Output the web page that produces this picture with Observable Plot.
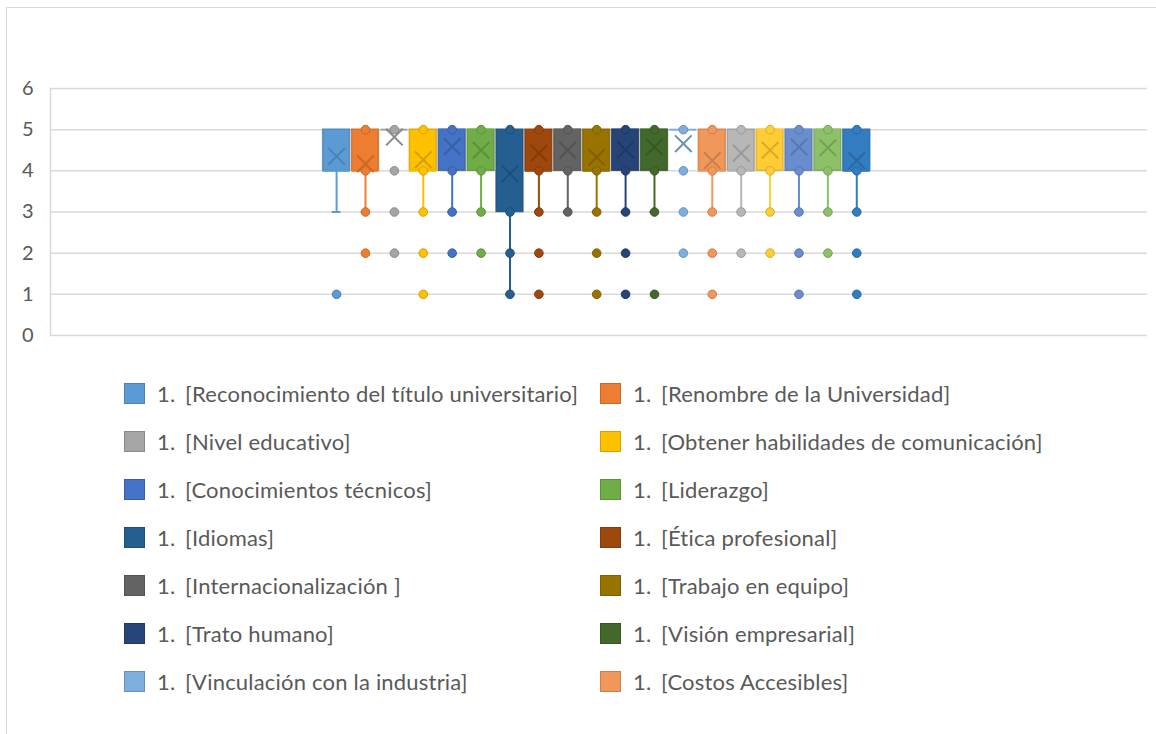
<!DOCTYPE html>
<html><head><meta charset="utf-8">
<script src="https://cdn.jsdelivr.net/npm/d3@7"></script>
<script src="https://cdn.jsdelivr.net/npm/@observablehq/plot@0.6"></script>
<style>
body{margin:0;background:#fff;width:1156px;height:734px;overflow:hidden;position:relative;font-family:Lato,"Open Sans",sans-serif;}
#frame{position:absolute;left:6px;top:7px;width:1200px;height:800px;border:1px solid #d9d9d9;}
#chart{position:absolute;left:0;top:0;}
#legend{position:absolute;left:124px;top:369px;display:grid;grid-template-columns:476px 476px;grid-auto-rows:48px;}
.item{display:flex;align-items:center;color:#595959;font-size:22px;letter-spacing:0.2px;white-space:pre;}
.sw{width:21px;height:21px;margin-right:12px;box-sizing:border-box;border:1.5px solid;flex:none;}
.num{display:inline-block;width:28px;flex:none;}
</style></head>
<body>
<div id="frame"></div>
<div id="chart"></div>
<div id="legend"></div>
<script>
const names = [
  "1.  [Reconocimiento del título universitario]",
  "1.  [Renombre de la Universidad]",
  "1.  [Nivel educativo]",
  "1.  [Obtener habilidades de comunicación]",
  "1.  [Conocimientos técnicos]",
  "1.  [Liderazgo]",
  "1.  [Idiomas]",
  "1.  [Ética profesional]",
  "1.  [Internacionalización ]",
  "1.  [Trabajo en equipo]",
  "1.  [Trato humano]",
  "1.  [Visión empresarial]",
  "1.  [Vinculación con la industria]",
  "1.  [Costos Accesibles]",
  "Serie 15", "Serie 16", "Serie 17", "Serie 18", "Serie 19"
];
const legendCount = 14;
const palette = ["#5B9BD5","#ED7D31","#A5A5A5","#FFC000","#4472C4","#70AD47","#255E91","#9E480E","#636363","#997300","#264478","#43682B","#7CAFDD","#F1975A","#B7B7B7","#FFCD33","#698ED0","#8CC168","#327DC2"];
const q1 =          [4,4,5,4,4,4,3,4,4,4,4,4,5,4,4,4,4,4,4];
const q3 =          [5,5,5,5,5,5,5,5,5,5,5,5,5,5,5,5,5,5,5];
const median =      [4,4,5,4,5,5,4,4,5,4,5,5,5,4,4,5,5,5,4];
const whiskerLow =  [3,3,5,3,3,3,1,3,3,3,3,3,5,3,3,3,3,3,3];
const means =       [4.35,4.17,4.82,4.27,4.59,4.5,3.93,4.43,4.5,4.33,4.51,4.58,4.66,4.25,4.43,4.5,4.58,4.56,4.25];
const points = [
  [1],
  [5,4,3,2],
  [5,4,3,2],
  [5,4,3,2,1],
  [5,4,3,2],
  [5,4,3,2],
  [5,3,2,1],
  [5,4,3,2,1],
  [5,4,3],
  [5,4,3,2,1],
  [5,4,3,2,1],
  [5,4,3,1],
  [5,4,3,2],
  [5,4,3,2,1],
  [5,4,3,2],
  [5,4,3,2],
  [5,4,3,2,1],
  [5,4,3,2],
  [5,4,3,2,1]
];
const yTicks = [0,1,2,3,4,5,6];

const xDomain = [-9.9, 28.06];
const half = 0.465;
const rows = names.map((n,i)=>({i, name:n, col:palette[i], dark:d3.color(palette[i]).darker(0.5).formatHex(),
  q1:q1[i], q3:q3[i], med:median[i], lo:whiskerLow[i], mean:means[i]}));
const boxes = rows.filter(r=>r.q3>r.q1);
const pts = rows.flatMap(r=>points[r.i].map(v=>({i:r.i, v, col:r.col, dark:r.dark})));

const chart = Plot.plot({
  width:1156, height:360, marginLeft:50, marginRight:9, marginTop:88, marginBottom:25,
  style:{fontFamily:"Lato, 'Open Sans', sans-serif", background:"transparent"},
  x:{domain:xDomain, axis:null},
  y:{domain:[0,6]},
  marks:[
    Plot.gridY(yTicks, {stroke:"#d9d9d9", strokeOpacity:1, strokeWidth:1.5}),
    Plot.ruleX([xDomain[0]], {y1:0, y2:6, stroke:"#d9d9d9", strokeWidth:1.5}),
    Plot.axisY(yTicks, {tickSize:0, tickPadding:17, fontSize:20, fill:"#595959", label:null}),
    Plot.ruleX(rows, {x:"i", y1:"q1", y2:"lo", stroke:"col", strokeWidth:2}),
    Plot.ruleY(rows, {y:"lo", x1:d=>d.i-0.15, x2:d=>d.i+0.15, stroke:"col", strokeWidth:2}),
    Plot.rect(boxes, {x1:d=>d.i-half, x2:d=>d.i+half, y1:"q1", y2:"q3", fill:"col", stroke:"dark", strokeWidth:1.5, strokeOpacity:0.8}),
    Plot.ruleY(rows, {y:"med", x1:d=>d.i-half, x2:d=>d.i+half, stroke:"col", strokeWidth:2}),
    Plot.dot(pts, {x:"i", y:"v", r:4.3, fill:"col", stroke:"dark", strokeWidth:1}),
    Plot.dot(rows, {x:"i", y:"mean", symbol:"times", r:7.6, stroke:"dark", strokeWidth:2})
  ]
});
document.getElementById("chart").appendChild(chart);

const legend = document.getElementById("legend");
rows.slice(0, legendCount).forEach(r=>{
  const it = document.createElement("div");
  it.className = "item";
  const sw = document.createElement("span");
  sw.className = "sw";
  sw.style.background = r.col;
  sw.style.borderColor = r.dark;
  it.appendChild(sw);
  const k = r.name.indexOf("  ");
  const num = document.createElement("span");
  num.className = "num";
  num.textContent = r.name.slice(0, k);
  it.appendChild(num);
  const t = document.createElement("span");
  t.textContent = r.name.slice(k + 2);
  it.appendChild(t);
  legend.appendChild(it);
});
</script>
</body></html>
